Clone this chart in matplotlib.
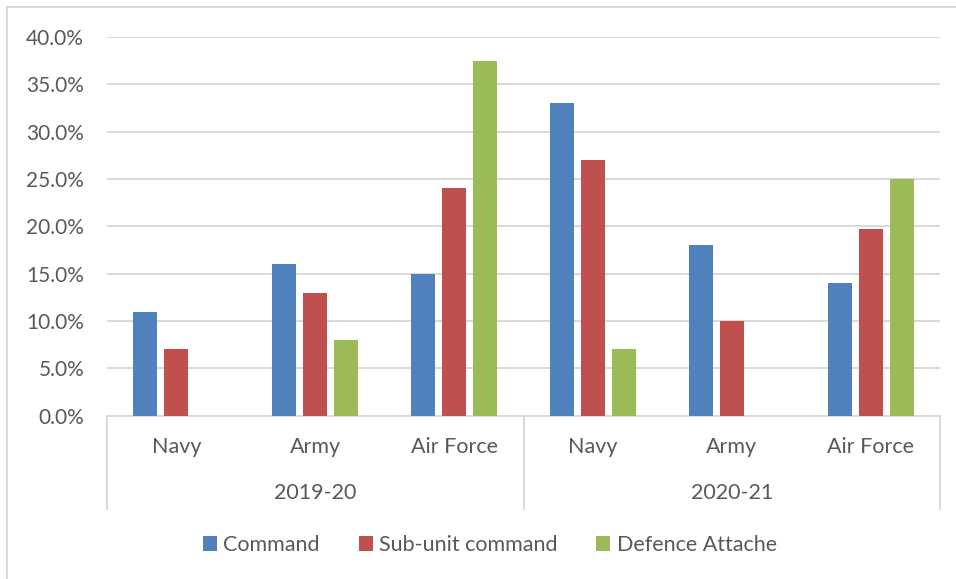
import numpy as np
import matplotlib
matplotlib.use('Agg')
import matplotlib.pyplot as plt
from matplotlib.lines import Line2D
from matplotlib.patches import Patch

# Dados
categorias = ['Navy', 'Army', 'Air Force', 'Navy', 'Army', 'Air Force']
anos = ['2019-20', '2020-21']
command = [11.0, 16.0, 15.0, 33.0, 18.0, 14.0]
sub_unit = [7.0, 13.0, 24.0, 27.0, 10.0, 19.7]
defence_attache = [0.0, 8.0, 37.5, 7.0, 0.0, 25.0]

series = ['Command', 'Sub-unit command', 'Defence Attache']
cores = ['#4F81BD', '#C0504D', '#9BBB59']

plt.rcParams['font.family'] = ['Lato', 'DejaVu Sans']
cinza_texto = '#595959'
cinza_linha = '#D9D9D9'

W, H = 956, 579
fig = plt.figure(figsize=(W / 100, H / 100), dpi=100)

x0, x1 = 107, 940
y_top, y_zero = 37, 415.7
ax = fig.add_axes([x0 / W, 1 - y_zero / H, (x1 - x0) / W, (y_zero - y_top) / H])

x = np.arange(len(categorias))
largura = 0.173
passo = 0.223
for i, (vals, cor) in enumerate(zip([command, sub_unit, defence_attache], cores)):
    ax.bar(x + (i - 1) * passo, vals, width=largura, color=cor, linewidth=0, zorder=3)

ax.set_xlim(-0.5, len(categorias) - 0.5)
ax.set_ylim(0, 40)
ax.set_yticks(np.arange(0, 41, 5))
ax.set_yticklabels([f'{v:.1f}%' for v in np.arange(0, 41, 5)])
ax.tick_params(axis='y', length=0, pad=16.5, labelsize=15, labelcolor=cinza_texto)
ax.set_xticks([])
ax.grid(axis='y', color=cinza_linha, linewidth=1.4, zorder=0)
for s in ['top', 'right', 'left']:
    ax.spines[s].set_visible(False)
ax.spines['bottom'].set_color(cinza_linha)
ax.spines['bottom'].set_linewidth(1.4)

# Eixo de categorias em dois níveis
altura = y_zero - y_top
y_cat = -(447 - y_zero) / altura
y_ano = -(493 - y_zero) / altura
y_fim = -(508.5 - y_zero) / altura
trans = ax.get_xaxis_transform()
for xi, nome in zip(x, categorias):
    ax.text(xi, y_cat, nome, transform=trans, ha='center', va='center',
            fontsize=15.5, color=cinza_texto)
for k, ano in enumerate(anos):
    ax.text(3 * k + 1, y_ano, ano, transform=trans, ha='center', va='center',
            fontsize=15.5, color=cinza_texto)
for xs in [-0.5, 2.5, 5.5]:
    ax.add_line(Line2D([xs, xs], [0, y_fim], transform=trans, color=cinza_linha,
                       linewidth=1.4, clip_on=False))

# Legenda
handles = [Patch(facecolor=c, edgecolor='none') for c in cores]
fig.legend(handles, series, loc='center', bbox_to_anchor=(490 / W, 1 - 545 / H),
           ncol=3, frameon=False, fontsize=15.5, labelcolor=cinza_texto,
           handlelength=0.65, handleheight=0.65, handletextpad=0.3, columnspacing=1.8)

# Borda externa do gráfico
fig.add_artist(Line2D([7 / W, 1], [1 - 7 / H, 1 - 7 / H], transform=fig.transFigure,
                      color=cinza_linha, linewidth=1.4))
fig.add_artist(Line2D([7 / W, 7 / W], [0, 1 - 7 / H], transform=fig.transFigure,
                      color=cinza_linha, linewidth=1.4))

fig.savefig('out.png', dpi=100)
